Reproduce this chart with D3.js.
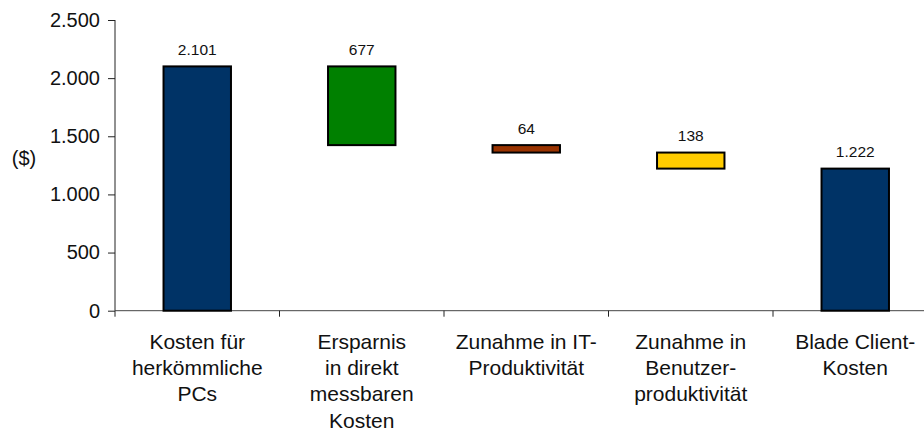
<!DOCTYPE html>
<html>
<head>
<meta charset="utf-8">
<script src="https://cdn.jsdelivr.net/npm/d3@7"></script>
<style>
  body { margin: 0; background: #fff; }
  svg { display: block; font-family: "Liberation Sans", Arial, sans-serif; }
</style>
</head>
<body>
<svg id="chart" width="924" height="432"></svg>
<script>
const categories = [
  'Kosten für\nherkömmliche\nPCs',
  'Ersparnis\nin direkt\nmessbaren\nKosten',
  'Zunahme in IT-\nProduktivität',
  'Zunahme in\nBenutzer-\nproduktivität',
  'Blade Client-\nKosten'
];
const values = [2101, 677, 64, 138, 1222];
const kinds = ['total', 'decrease', 'decrease', 'decrease', 'total'];
const barColours = ['#003366', '#008000', '#993300', '#FFCC00', '#003366'];
const yTicks = [0, 500, 1000, 1500, 2000, 2500];

const svg = d3.select('#chart');
const width = 924;

const de = d3.formatLocale({ decimal: ',', thousands: '.', grouping: [3], currency: ['', ' €'] });
const fmt = de.format(',d');

// running level for the waterfall
let level = 0;
const bars = values.map((v, i) => {
  let lo, hi;
  if (kinds[i] === 'total') {
    lo = 0; hi = v; level = v;
  } else {
    hi = level; lo = level - v; level = lo;
  }
  return { cat: categories[i], value: v, lo, hi, colour: barColours[i] };
});

const x = d3.scaleBand()
  .domain(categories)
  .range([115, 937.5])
  .padding(0);

const y = d3.scaleLinear()
  .domain([0, 2500])
  .range([310.7, 20]);

const barW = x.step() * 0.41;

// y axis
const yAxis = d3.axisLeft(y)
  .tickValues(yTicks)
  .tickSize(7)
  .tickPadding(8)
  .tickFormat(fmt);

const yg = svg.append('g')
  .attr('transform', 'translate(115,0)')
  .call(yAxis);
yg.select('.domain').attr('stroke', '#222').attr('d', `M0,${y(2500)}V${y(0)}`);
yg.selectAll('.tick line').attr('stroke', '#222');
yg.selectAll('.tick text')
  .attr('fill', '#111')
  .style('font-size', '20px');

svg.append('text')
  .attr('x', 24)
  .attr('y', 165)
  .attr('text-anchor', 'middle')
  .attr('fill', '#111')
  .style('font-size', '20px')
  .text('($)');

// x axis line and tick marks at band edges
const xg = svg.append('g');
xg.append('line')
  .attr('x1', 115).attr('x2', width)
  .attr('y1', y(0)).attr('y2', y(0))
  .attr('stroke', '#444');
xg.selectAll('line.tick')
  .data(d3.range(categories.length + 1))
  .join('line')
  .attr('class', 'tick')
  .attr('x1', i => 115 + i * x.step())
  .attr('x2', i => 115 + i * x.step())
  .attr('y1', y(0))
  .attr('y2', y(0) + 6)
  .attr('stroke', '#222');

// bars
svg.append('g').selectAll('rect')
  .data(bars)
  .join('rect')
  .attr('x', d => x(d.cat) + (x.step() - barW) / 2)
  .attr('width', barW)
  .attr('y', d => y(d.hi))
  .attr('height', d => y(d.lo) - y(d.hi))
  .attr('fill', d => d.colour)
  .attr('stroke', '#000')
  .attr('stroke-width', 2);

// value labels
svg.append('g').selectAll('text')
  .data(bars)
  .join('text')
  .attr('x', d => x(d.cat) + x.step() / 2)
  .attr('y', d => y(d.hi) - 11.5)
  .attr('text-anchor', 'middle')
  .attr('fill', '#111')
  .style('font-size', '15.5px')
  .text(d => fmt(d.value));

// category labels
const lab = svg.append('g').selectAll('text')
  .data(categories)
  .join('text')
  .attr('x', d => x(d) + x.step() / 2)
  .attr('y', 349)
  .attr('text-anchor', 'middle')
  .attr('fill', '#111')
  .style('font-size', '21px');
lab.selectAll('tspan')
  .data(d => d.split('\n'))
  .join('tspan')
  .attr('x', function() { return d3.select(this.parentNode).attr('x'); })
  .attr('dy', (d, i) => i === 0 ? 0 : 26.2)
  .text(d => d);
</script>
</body>
</html>
